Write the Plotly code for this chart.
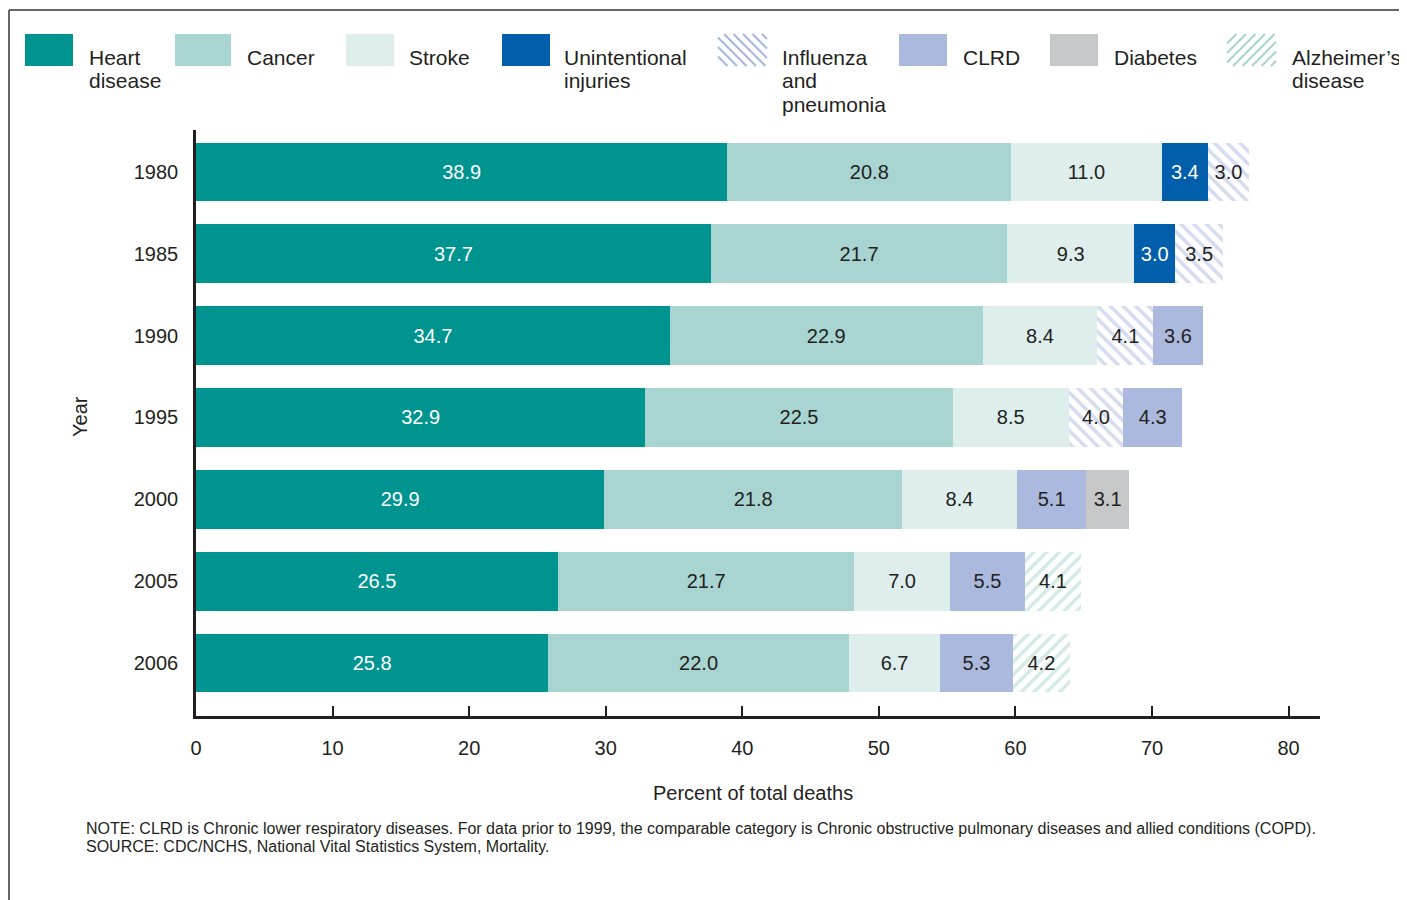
import plotly.graph_objects as go

years = ["1980", "1985", "1990", "1995", "2000", "2005", "2006"]
categories = ["Heart disease", "Cancer", "Stroke", "Unintentional injuries",
              "Influenza and pneumonia", "CLRD", "Diabetes", "Alzheimer’s disease"]
heart = [38.9, 37.7, 34.7, 32.9, 29.9, 26.5, 25.8]
cancer = [20.8, 21.7, 22.9, 22.5, 21.8, 21.7, 22.0]
stroke = [11.0, 9.3, 8.4, 8.5, 8.4, 7.0, 6.7]
unintentional = [3.4, 3.0, None, None, None, None, None]
influenza = [3.0, 3.5, 4.1, 4.0, None, None, None]
clrd = [None, None, 3.6, 4.3, 5.1, 5.5, 5.3]
diabetes = [None, None, None, None, 3.1, None, None]
alzheimers = [None, None, None, None, None, 4.1, 4.2]
x_ticks = [0, 10, 20, 30, 40, 50, 60, 70, 80]

series = [heart, cancer, stroke, unintentional, influenza, clrd, diabetes, alzheimers]

FONT = "Liberation Sans, Arial, Helvetica, sans-serif"
DARK = "#231F20"
styles = [
    dict(color="#009490", text="white", pattern=None),
    dict(color="#A8D4D2", text=DARK, pattern=None),
    dict(color="#DDEEED", text=DARK, pattern=None),
    dict(color="#005EAA", text="white", pattern=None),
    dict(color="white", text=DARK, pattern=("\\", "#A9B8DF")),
    dict(color="#AAB9DD", text=DARK, pattern=None),
    dict(color="#C6C7C9", text=DARK, pattern=None),
    dict(color="white", text=DARK, pattern=("/", "#A8D4D2")),
]

fig = go.Figure()
for name, vals, st in zip(categories, series, styles):
    marker = dict(color=st["color"], line=dict(width=0))
    if st["pattern"]:
        marker["pattern"] = dict(shape=st["pattern"][0], fgcolor=st["pattern"][1],
                                 bgcolor="white", size=9, solidity=0.4)
    fig.add_trace(go.Bar(
        y=years, x=vals, orientation="h", name=name, marker=marker,
        text=["" if v is None else f"{v:.1f}" for v in vals],
        textposition="inside", insidetextanchor="middle", constraintext="none",
        textangle=0, textfont=dict(family=FONT, size=20, color=st["text"]),
        showlegend=False, hoverinfo="x+name",
    ))

# page offset (body margin) and plot area in screenshot pixels
OFF = 8
FIG_W, FIG_H = 1399, 892
X0, X1, Y0, Y1 = 196, 1320, 130, 716
W, H = X1 - X0, Y1 - Y0
def px(x):
    return (x - X0) / W
def py(y):
    return (Y1 - y) / H

shapes = []
annotations = []

# frame lines
shapes.append(dict(type="line", xref="paper", yref="paper", x0=px(9), x1=px(1410), y0=py(10), y1=py(10),
                   line=dict(color="#333333", width=1.5)))
shapes.append(dict(type="line", xref="paper", yref="paper", x0=px(9), x1=px(9), y0=py(10), y1=py(910),
                   line=dict(color="#333333", width=1.5)))

# custom legend
legend_items = [
    (25, 73, 87, ["Heart", "disease"]),
    (175, 231, 245, ["Cancer"]),
    (346, 394, 407, ["Stroke"]),
    (502, 550, 562, ["Unintentional", "injuries"]),
    (718, 767, 780, ["Influenza", "and", "pneumonia"]),
    (899, 947, 961, ["CLRD"]),
    (1050, 1098, 1112, ["Diabetes"]),
    (1227, 1276, 1290, ["Alzheimer’s", "disease"]),
]
SY0, SY1 = 34, 66

def hatch_lines(xa, xb, ya, yb, direction, color):
    out = []
    period = 9.5
    h = yb - ya
    c = xa - h
    while c < xb:
        t0, t1 = 0.0, h
        if c + t0 < xa:
            t0 = xa - c
        if c + t1 > xb:
            t1 = xb - c
        if t1 > t0:
            if direction == "/":
                p0 = (c + t0, yb - t0)
                p1 = (c + t1, yb - t1)
            else:
                p0 = (c + t0, ya + t0)
                p1 = (c + t1, ya + t1)
            out.append(dict(type="line", xref="paper", yref="paper",
                            x0=px(p0[0]), y0=py(p0[1]), x1=px(p1[0]), y1=py(p1[1]),
                            line=dict(color=color, width=2.2)))
        c += period
    return out

for (sx0, sx1, tx, lines), st in zip(legend_items, styles):
    if st["pattern"]:
        shapes.extend(hatch_lines(sx0, sx1, SY0, SY1, st["pattern"][0], st["pattern"][1]))
    else:
        shapes.append(dict(type="rect", xref="paper", yref="paper", x0=px(sx0), x1=px(sx1),
                           y0=py(SY1), y1=py(SY0), fillcolor=st["color"], line=dict(width=0)))
    for i, ln in enumerate(lines):
        annotations.append(dict(xref="paper", yref="paper", x=px(tx), y=py(57 + 24 * i),
                                xanchor="left", yanchor="middle", showarrow=False, text=ln,
                                font=dict(family=FONT, size=21, color=DARK)))

# y axis title
annotations.append(dict(xref="paper", yref="paper", x=px(80), y=py(417), text="Year", textangle=-90,
                        showarrow=False, xanchor="center", yanchor="middle",
                        font=dict(family=FONT, size=20, color=DARK)))
# x axis title
annotations.append(dict(xref="paper", yref="paper", x=px(753), y=py(793), text="Percent of total deaths",
                        showarrow=False, xanchor="center", yanchor="middle",
                        font=dict(family=FONT, size=20, color=DARK)))
# note / source
annotations.append(dict(xref="paper", yref="paper", x=px(84), y=py(828),
                        text="NOTE: CLRD is Chronic lower respiratory diseases. For data prior to 1999, the comparable category is Chronic obstructive pulmonary diseases and allied conditions (COPD).",
                        showarrow=False, xanchor="left", yanchor="middle",
                        font=dict(family=FONT, size=16, color=DARK)))
annotations.append(dict(xref="paper", yref="paper", x=px(84), y=py(846),
                        text="SOURCE: CDC/NCHS, National Vital Statistics System, Mortality.",
                        showarrow=False, xanchor="left", yanchor="middle",
                        font=dict(family=FONT, size=16, color=DARK)))

fig.update_layout(
    width=FIG_W, height=FIG_H,
    margin=dict(l=X0 - OFF, r=FIG_W - (X1 - OFF), t=Y0 - OFF, b=FIG_H - (Y1 - OFF), pad=0),
    barmode="stack", bargap=0.28,
    plot_bgcolor="white", paper_bgcolor="white",
    font=dict(family=FONT, color=DARK),
    shapes=shapes, annotations=annotations,
    xaxis=dict(range=[0, 82.3], tickvals=x_ticks, ticks="inside", ticklen=10, tickwidth=2,
               tickcolor=DARK, showline=True, linecolor=DARK, linewidth=2.5, showgrid=False,
               zeroline=False, tickfont=dict(family=FONT, size=20, color=DARK),
               ticklabelstandoff=12, fixedrange=True),
    yaxis=dict(type="category", categoryorder="array", categoryarray=years,
               range=[6.648, -0.513], ticks="", showline=True, linecolor=DARK, linewidth=2.5,
               showgrid=False, zeroline=False, tickfont=dict(family=FONT, size=20, color=DARK),
               ticklabelstandoff=11, fixedrange=True),
)

fig.write_html("out.html")
